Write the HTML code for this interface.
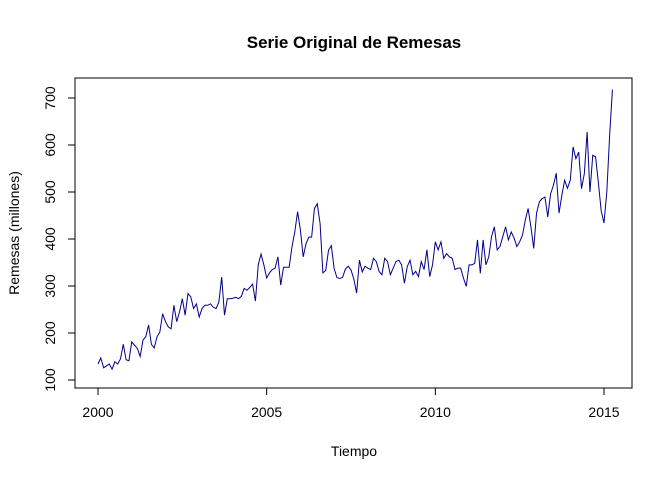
<!DOCTYPE html>
<html><head><meta charset="utf-8"><style>
body{margin:0;background:#fff}
svg{display:block;font-family:"Liberation Sans",Arial,sans-serif}
</style></head><body>
<svg id="chart" width="672" height="480" viewBox="0 0 672 480">
<rect width="672" height="480" fill="#fff"/>
<text x="354" y="48" text-anchor="middle" font-size="17" font-weight="bold">Serie Original de Remesas</text>
<text x="354" y="456" text-anchor="middle" font-size="14">Tiempo</text>
<text transform="translate(19,233) rotate(-90)" text-anchor="middle" font-size="14">Remesas (millones)</text>
<rect x="75" y="78" width="557" height="310" fill="none" stroke="#000" stroke-width="1"/>
<g id="xaxis"></g>
<g id="yaxis"></g>
<path id="series" fill="none" stroke="#00008b" stroke-width="1"/>
</svg>
<script>
const startYear = 2000;
const values = [
134,147,126,130,134,123,139,134,145,176,143,141,
181,174,167,150,185,192,217,176,168,192,202,241,
224,213,209,259,224,245,273,238,284,277,252,262,
234,252,259,259,262,255,252,266,319,238,273,273,
274,276,273,278,295,291,297,304,268,345,368,345,
317,328,335,338,362,302,340,340,340,383,415,458,
419,362,390,404,404,465,475,433,328,333,376,386,
337,318,316,318,336,342,334,315,285,355,330,342,
338,335,359,352,331,324,359,352,324,338,352,355,
345,306,341,355,324,331,320,352,335,377,320,345,
394,377,394,359,369,362,359,335,338,338,317,299,
345,345,348,398,327,398,345,362,405,426,377,384,
405,426,398,415,402,384,394,408,440,465,426,380,
455,479,486,489,447,496,514,540,455,493,525,508,
525,596,571,585,507,539,628,500,578,575,520,460,
434,500,620,718];
const xTicks = [2000,2005,2010,2015];
const yTicks = [100,200,300,400,500,600,700];
function xScale(t){return 98 + (t-2000)*33.733;}
function yScale(v){return 380 - (v-100)*0.47;}
const NS="http://www.w3.org/2000/svg";
let d="";
values.forEach((v,i)=>{const t=startYear+i/12;d+=(i?"L":"M")+xScale(t).toFixed(2)+","+yScale(v).toFixed(2);});
document.getElementById('series').setAttribute('d',d);
const xa=document.getElementById('xaxis');
let l=document.createElementNS(NS,'line');
l.setAttribute('x1',xScale(xTicks[0]));l.setAttribute('x2',xScale(xTicks[xTicks.length-1]));l.setAttribute('y1',388);l.setAttribute('y2',388);l.setAttribute('stroke','#000');


xa.appendChild(l);
xTicks.forEach(t=>{
 const tk=document.createElementNS(NS,'line');
 tk.setAttribute('x1',xScale(t));tk.setAttribute('x2',xScale(t));tk.setAttribute('y1',388);tk.setAttribute('y2',395);tk.setAttribute('stroke','#000');
 
 
 xa.appendChild(tk);
 const tx=document.createElementNS(NS,'text');
 tx.setAttribute('x',xScale(t));tx.setAttribute('y',417);tx.setAttribute('text-anchor','middle');tx.setAttribute('font-size','14');
 tx.textContent=t;
 
 
 xa.appendChild(tx);
});
const ya=document.getElementById('yaxis');
let l2=document.createElementNS(NS,'line');
l2.setAttribute('x1',75);l2.setAttribute('x2',75);l2.setAttribute('y1',yScale(yTicks[0]));l2.setAttribute('y2',yScale(yTicks[yTicks.length-1]));l2.setAttribute('stroke','#000');


ya.appendChild(l2);
yTicks.forEach(v=>{
 const tk=document.createElementNS(NS,'line');
 tk.setAttribute('x1',68);tk.setAttribute('x2',75);tk.setAttribute('y1',yScale(v));tk.setAttribute('y2',yScale(v));tk.setAttribute('stroke','#000');
 
 
 ya.appendChild(tk);
 const tx=document.createElementNS(NS,'text');
 tx.setAttribute('transform','translate(55,'+yScale(v)+') rotate(-90)');tx.setAttribute('text-anchor','middle');tx.setAttribute('font-size','14');
 tx.textContent=v;
 
 
 ya.appendChild(tx);
});
</script>
</body></html>
